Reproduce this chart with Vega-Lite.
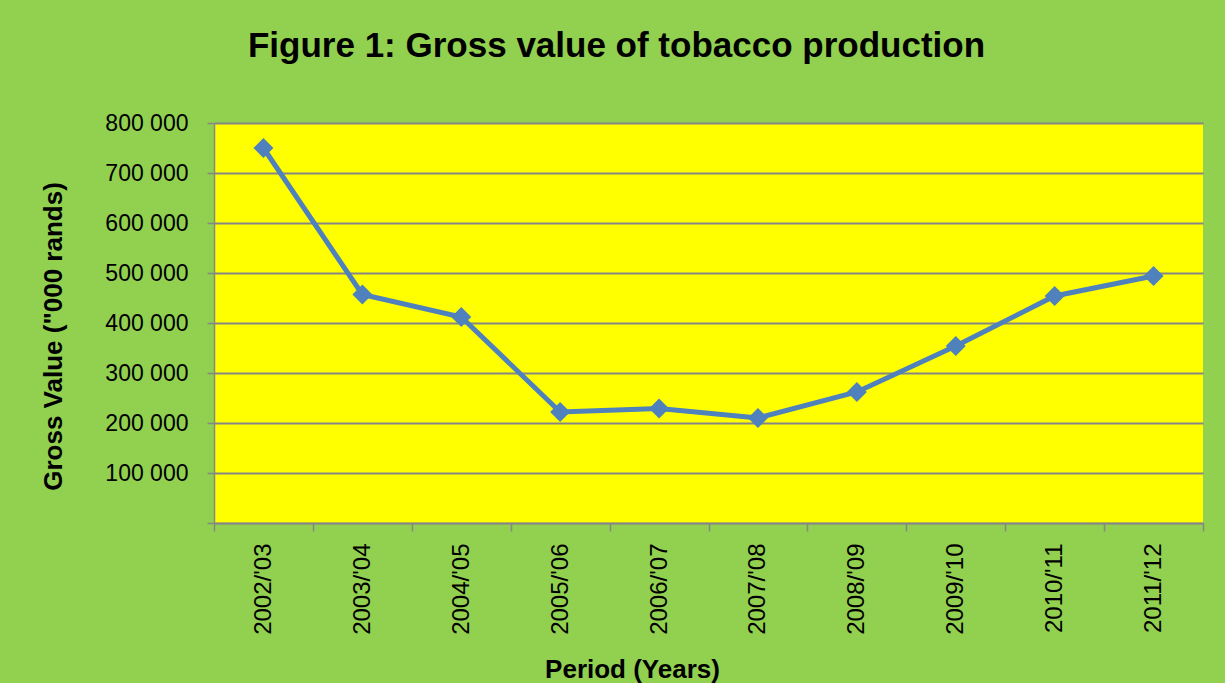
{
  "$schema": "https://vega.github.io/schema/vega-lite/v6.json",
  "autosize": "none",
  "width": 989,
  "height": 400,
  "padding": {"left": 214, "top": 123, "right": 22, "bottom": 160},
  "background": "#92D050",
  "config": {
    "font": "Liberation Sans",
    "view": {"fill": "#FFFF00", "stroke": null},
    "locale": {"number": {"decimal": ".", "thousands": " ", "grouping": [3], "currency": ["", ""]}}
  },
  "title": {
    "text": "Figure 1: Gross value of tobacco production",
    "font": "Liberation Sans",
    "fontSize": 35,
    "fontWeight": "bold",
    "color": "#000000",
    "anchor": "middle",
    "frame": "group",
    "baseline": "alphabetic",
    "offset": 0,
    "dx": -92,
    "dy": -20
  },
  "data": {
    "values": [
      {"period": "2002/'03", "value": 750000},
      {"period": "2003/'04", "value": 457000},
      {"period": "2004/'05", "value": 412000},
      {"period": "2005/'06", "value": 222000},
      {"period": "2006/'07", "value": 229000},
      {"period": "2007/'08", "value": 210000},
      {"period": "2008/'09", "value": 262000},
      {"period": "2009/'10", "value": 354000},
      {"period": "2010/'11", "value": 454000},
      {"period": "2011/'12", "value": 494000}
    ]
  },
  "encoding": {
    "x": {
      "field": "period",
      "type": "ordinal",
      "sort": null,
      "scale": {"type": "band", "paddingInner": 0, "paddingOuter": 0},
      "axis": {
        "title": "Period (Years)",
        "titleFont": "Liberation Sans",
        "titleFontSize": 26,
        "titleFontWeight": "bold",
        "titleColor": "#000000",
        "titleX": 418,
        "titleY": 154,
        "titleAlign": "center",
        "titleBaseline": "alphabetic",
        "labelAngle": -90,
        "labelAlign": "right",
        "labelBaseline": "middle",
        "labelFont": "Liberation Sans",
        "labelFontSize": 24,
        "labelColor": "#000000",
        "labelPadding": 12,
        "tickBand": "extent",
        "tickSize": 8,
        "tickWidth": 1.5,
        "tickColor": "#868686",
        "domainColor": "#868686",
        "domainWidth": 1.5,
        "grid": false
      }
    },
    "y": {
      "field": "value",
      "type": "quantitative",
      "scale": {"domain": [0, 800000], "nice": false, "zero": true},
      "axis": {
        "title": "Gross Value (\"000 rands)",
        "titleFont": "Liberation Sans",
        "titleFontSize": 26,
        "titleFontWeight": "bold",
        "titleColor": "#000000",
        "titleX": -153,
        "titleY": 213,
        "titleAngle": -90,
        "titleAlign": "center",
        "titleBaseline": "alphabetic",
        "values": [0, 100000, 200000, 300000, 400000, 500000, 600000, 700000, 800000],
        "format": ",d",
        "labelExpr": "datum.value == 0 ? '' : datum.label",
        "labelFont": "Liberation Sans",
        "labelFontSize": 23,
        "labelColor": "#000000",
        "labelPadding": 19,
        "tickSize": 7,
        "tickWidth": 1.5,
        "tickColor": "#868686",
        "domainColor": "#868686",
        "domainWidth": 1.5,
        "grid": true,
        "gridColor": "#868686",
        "gridWidth": 2,
        "gridOpacity": 1
      }
    }
  },
  "layer": [
    {"mark": {"type": "line", "color": "#4F81BD", "strokeWidth": 5}},
    {"mark": {"type": "point", "shape": "diamond", "filled": true, "color": "#4F81BD", "opacity": 1, "size": 400}}
  ]
}
